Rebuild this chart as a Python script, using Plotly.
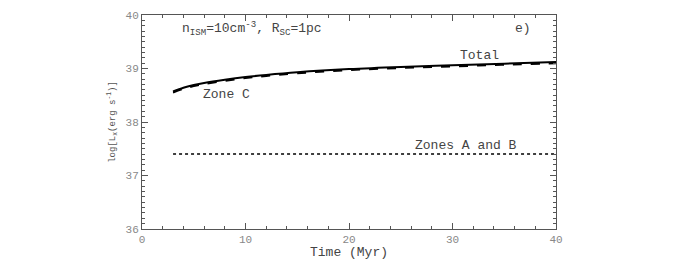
import plotly.graph_objects as go

time_total = [3, 4, 5, 6, 8, 10, 12, 15, 20, 25, 30, 35, 40]
log_total = [38.57, 38.64, 38.69, 38.73, 38.79, 38.84, 38.88, 38.93, 38.99, 39.03, 39.06, 39.09, 39.12]
time_zonec = [3, 4, 5, 6, 8, 10, 12, 15, 20, 25, 30, 35, 40]
log_zonec = [38.55, 38.62, 38.67, 38.71, 38.77, 38.82, 38.86, 38.91, 38.97, 39.01, 39.04, 39.07, 39.10]
time_ab = [3, 40]
log_ab = [37.40, 37.40]

FONT = "Liberation Mono"

fig = go.Figure()
fig.add_trace(go.Scatter(x=time_total, y=log_total, mode="lines", line=dict(color="black", width=2, shape="spline"), showlegend=False))
fig.add_trace(go.Scatter(x=time_zonec, y=log_zonec, mode="lines", line=dict(color="black", width=2, dash="dash", shape="spline"), showlegend=False))
fig.add_trace(go.Scatter(x=time_ab, y=log_ab, mode="lines", line=dict(color="black", width=1.5, dash="dot"), showlegend=False))

annots = [
    dict(x=3.65, y=39.74, text="n<sub>ISM</sub>=10cm<sup>-3</sup>, R<sub>SC</sub>=1pc", xanchor="left"),
    dict(x=36.8, y=39.74, text="e)", xanchor="center"),
    dict(x=32.6, y=39.25, text="Total", xanchor="center"),
    dict(x=8.2, y=38.52, text="Zone C", xanchor="center"),
    dict(x=31.3, y=37.56, text="Zones A and B", xanchor="center"),
]
for a in annots:
    fig.add_annotation(x=a["x"], y=a["y"], text=a["text"], xanchor=a["xanchor"], yanchor="middle",
                       showarrow=False, font=dict(family=FONT, size=13, color="#444"))

axis_common = dict(showline=True, linecolor="#555", linewidth=1, mirror="allticks", ticks="inside",
                   tickcolor="#555", ticklen=6, showgrid=False, zeroline=False, automargin=False,
                   tickfont=dict(family=FONT, size=11, color="#888"))
fig.update_xaxes(range=[0, 40], tickvals=[0, 10, 20, 30, 40],
                 minor=dict(dtick=2, ticks="inside", ticklen=3, tickcolor="#555"),
                 title=dict(text="Time (Myr)", font=dict(family=FONT, size=13, color="#444"), standoff=2),
                 **axis_common)
fig.update_yaxes(range=[36, 40], tickvals=[36, 37, 38, 39, 40],
                 minor=dict(dtick=0.1, ticks="inside", ticklen=3, tickcolor="#555"),
                 title=dict(text="log[L<sub>x</sub>(erg s<sup>-1</sup>)]", font=dict(family=FONT, size=9, color="#555"), standoff=8),
                 **axis_common)
fig.update_layout(width=700, height=260, margin=dict(l=142, r=144, t=15, b=31, autoexpand=False),
                  plot_bgcolor="white", paper_bgcolor="white")
fig.write_html("out.html", config={"displayModeBar": False},
               post_script="document.body.style.margin='0';document.body.style.overflow='hidden';")
